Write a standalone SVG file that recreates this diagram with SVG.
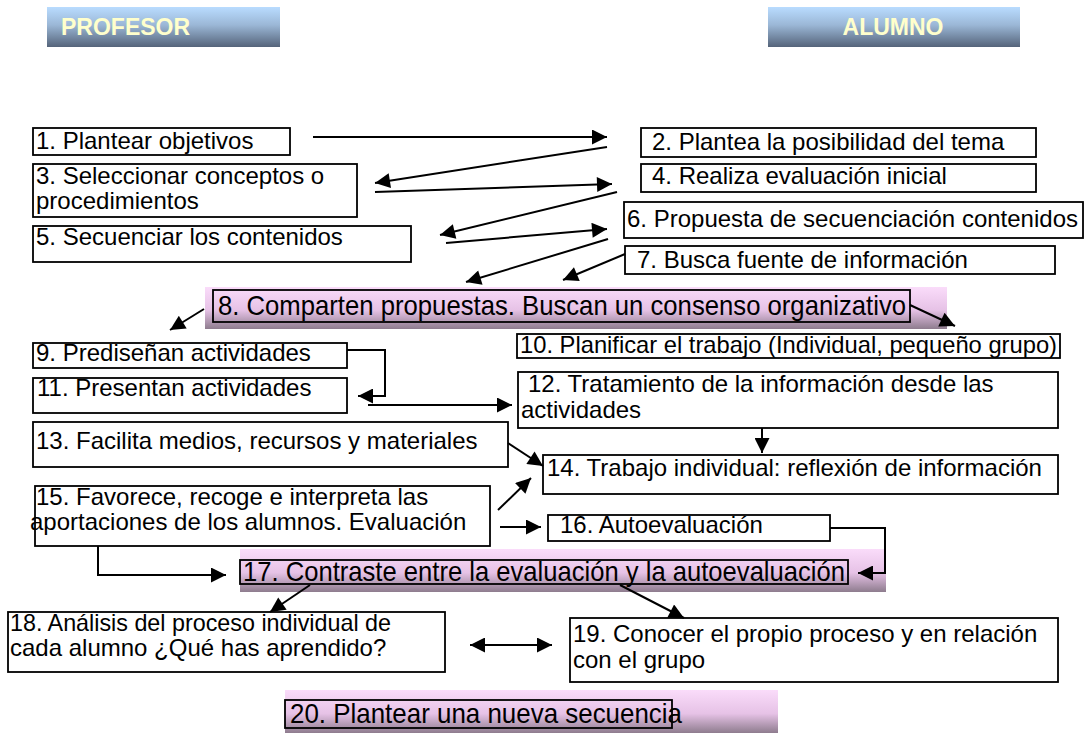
<svg xmlns="http://www.w3.org/2000/svg" width="1086" height="733" viewBox="0 0 1086 733">
<defs>
<linearGradient id="hdr" x1="0" y1="0" x2="0" y2="1">
<stop offset="0" stop-color="#b9dcff"/>
<stop offset="0.45" stop-color="#9bb7d6"/>
<stop offset="1" stop-color="#55647a"/>
</linearGradient>
<linearGradient id="pink" x1="0" y1="0" x2="0" y2="1">
<stop offset="0" stop-color="#fadcfa"/>
<stop offset="0.55" stop-color="#e6c2e6"/>
<stop offset="1" stop-color="#8e7c8e"/>
</linearGradient>
<marker id="ah" viewBox="0 0 10 10" refX="10" refY="5" markerWidth="9" markerHeight="7.5" orient="auto-start-reverse" markerUnits="strokeWidth">
<path d="M0,0 L10,5 L0,10 z" fill="#000"/>
</marker>
</defs>
<style>
.box{fill:#fff;stroke:#000;stroke-width:1.8}
.obox{fill:none;stroke:#000;stroke-width:1.8}
.t{font-family:"Liberation Sans",Arial,sans-serif;font-size:24px;fill:#000}
.tc{font-family:"Liberation Sans",Arial,sans-serif;font-size:28px;fill:#000}
.h{font-family:"Liberation Sans",Arial,sans-serif;font-size:23px;font-weight:bold;fill:#ffffcc}
.c{fill:none;stroke:#000;stroke-width:2}
.a{marker-end:url(#ah)}
</style>
<rect width="1086" height="733" fill="#fff"/>

<g id="header-profesor">
<rect x="47" y="7" width="233" height="40" fill="url(#hdr)"/>
<text class="h" x="61" y="35">PROFESOR</text>
</g>
<g id="header-alumno">
<rect x="768" y="7" width="252" height="40" fill="url(#hdr)"/>
<text class="h" x="893" y="35" text-anchor="middle">ALUMNO</text>
</g>

<g id="node-1"><rect class="box" x="33" y="128" width="257" height="27"/><text class="t" x="36" y="149">1. Plantear objetivos</text></g>
<g id="node-2"><rect class="box" x="641" y="128" width="395" height="29"/><text class="t" x="652" y="150">2. Plantea la posibilidad del tema</text></g>
<g id="node-3"><rect class="box" x="33" y="164" width="324" height="53"/><text class="t" x="36" y="184">3. Seleccionar conceptos o</text><text class="t" x="36" y="209">procedimientos</text></g>
<g id="node-4"><rect class="box" x="641" y="164" width="395" height="28"/><text class="t" x="652" y="184">4. Realiza evaluación inicial</text></g>
<g id="node-5"><rect class="box" x="33" y="226" width="378" height="36"/><text class="t" x="36" y="245">5. Secuenciar los contenidos</text></g>
<g id="node-6"><rect class="box" x="624" y="202" width="459" height="36"/><text class="t" x="627" y="227">6. Propuesta de secuenciación contenidos</text></g>
<g id="node-7"><rect class="box" x="625" y="246" width="430" height="28"/><text class="t" x="637" y="268">7. Busca fuente de información</text></g>
<g id="node-8"><rect x="205" y="287" width="742" height="42" fill="url(#pink)"/><rect class="obox" x="213" y="290" width="697" height="32"/><text class="tc" x="218" y="315" textLength="688" lengthAdjust="spacingAndGlyphs">8. Comparten propuestas. Buscan un consenso organizativo</text></g>
<g id="node-9"><rect class="box" x="33" y="343" width="314" height="25"/><text class="t" x="36" y="361">9. Prediseñan actividades</text></g>
<g id="node-10"><rect class="box" x="517" y="334" width="543" height="24"/><text class="t" x="520" y="353" textLength="537" lengthAdjust="spacingAndGlyphs">10. Planificar el trabajo (Individual, pequeño grupo)</text></g>
<g id="node-11"><rect class="box" x="33" y="378" width="314" height="35"/><text class="t" x="37" y="396">11. Presentan actividades</text></g>
<g id="node-12"><rect class="box" x="518" y="372" width="540" height="56"/><text class="t" x="528" y="392">12. Tratamiento de la información desde las</text><text class="t" x="521" y="418">actividades</text></g>
<g id="node-13"><rect class="box" x="33" y="422" width="475" height="45"/><text class="t" x="36" y="449">13. Facilita medios, recursos y materiales</text></g>
<g id="node-14"><rect class="box" x="543" y="455" width="515" height="39"/><text class="t" x="547" y="476">14. Trabajo individual: reflexión de información</text></g>
<g id="node-15"><rect class="box" x="35" y="486" width="455" height="60"/><text class="t" x="36" y="505">15. Favorece, recoge e interpreta las</text><text class="t" x="30" y="530">aportaciones de los alumnos. Evaluación</text></g>
<g id="node-16"><rect class="box" x="548" y="515" width="282" height="26"/><text class="t" x="560" y="533">16. Autoevaluación</text></g>
<g id="node-17"><rect x="240" y="549" width="646" height="43" fill="url(#pink)"/><rect class="obox" x="240" y="560" width="608" height="24"/><text class="tc" x="243" y="581" textLength="602" lengthAdjust="spacingAndGlyphs">17. Contraste entre la evaluación y la autoevaluación</text></g>
<g id="node-18"><rect class="box" x="8" y="612" width="437" height="60"/><text class="t" x="10" y="631" textLength="381" lengthAdjust="spacingAndGlyphs">18. Análisis del proceso individual de</text><text class="t" x="10" y="656">cada alumno ¿Qué has aprendido?</text></g>
<g id="node-19"><rect class="box" x="570" y="618" width="488" height="64"/><text class="t" x="573" y="642">19. Conocer el propio proceso y en relación</text><text class="t" x="573" y="668">con el grupo</text></g>
<g id="node-20"><rect x="285" y="690" width="493" height="43" fill="url(#pink)"/><rect class="obox" x="285" y="700" width="387" height="28"/><text class="tc" x="290" y="723" textLength="392" lengthAdjust="spacingAndGlyphs">20. Plantear una nueva secuencia</text></g>

<g id="connectors">
<line class="c a" x1="313" y1="137" x2="607" y2="137"/>
<line class="c a" x1="607" y1="147" x2="375" y2="183"/>
<line class="c a" x1="375" y1="192" x2="612" y2="184"/>
<line class="c a" x1="617" y1="192" x2="440" y2="235"/>
<line class="c a" x1="446" y1="243" x2="607" y2="229"/>
<line class="c a" x1="608" y1="239" x2="466" y2="282"/>
<line class="c a" x1="625" y1="254" x2="563" y2="280"/>
<line class="c a" x1="204" y1="309" x2="170" y2="330"/>
<line class="c a" x1="910" y1="305" x2="955" y2="326"/>
<polyline class="c a" points="347,350 385,350 385,396 358,396"/>
<line class="c a" x1="368" y1="405" x2="512" y2="405"/>
<line class="c a" x1="762" y1="428" x2="762" y2="453"/>
<line class="c a" x1="508" y1="443" x2="543" y2="466"/>
<line class="c a" x1="498" y1="510" x2="531" y2="478"/>
<line class="c a" x1="500" y1="527" x2="541" y2="527"/>
<polyline class="c a" points="830,528 885,528 885,573 858,573"/>
<polyline class="c a" points="98,546 98,575 226,575"/>
<line class="c a" x1="310" y1="585" x2="270" y2="612"/>
<line class="c a" x1="620" y1="585" x2="684" y2="618"/>
<line class="c a" x1="470" y1="645" x2="552" y2="645" marker-start="url(#ah)"/>
</g>
</svg>
